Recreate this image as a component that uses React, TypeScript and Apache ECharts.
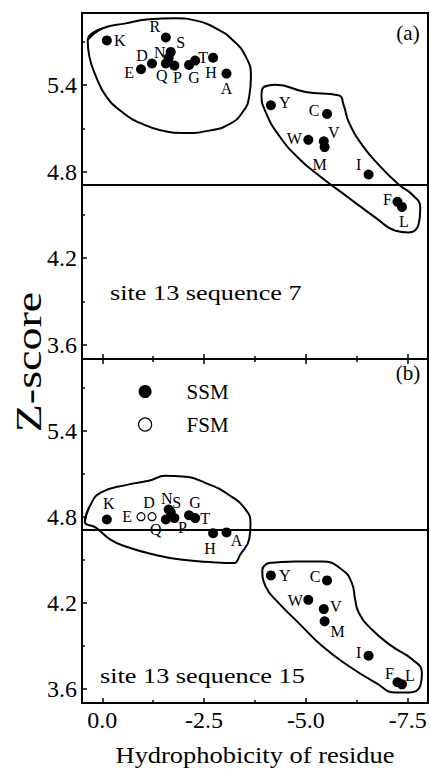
import React, { useEffect, useRef } from "react";
import * as echarts from "echarts";

// ---------------- data ----------------
const residues = ["K", "E", "D", "R", "N", "Q", "S", "P", "G", "T", "H", "A", "Y", "C", "W", "V", "M", "I", "F", "L"];
const hydrophobicity = [-0.11, -0.95, -1.22, -1.56, -1.63, -1.56, -1.68, -1.77, -2.13, -2.28, -2.72, -3.05, -4.14, -5.52, -5.06, -5.44, -5.46, -6.54, -7.25, -7.36];
// panel (a): site 13 sequence 7, all SSM
const zScoreSeq7 = [5.71, 5.51, 5.55, 5.73, 5.59, 5.55, 5.63, 5.535, 5.54, 5.57, 5.59, 5.48, 5.26, 5.2, 5.02, 5.01, 4.97, 4.78, 4.59, 4.555];
// panel (b): site 13 sequence 15 (R not shown)
const zScoreSeq15 = [4.78, 4.8, 4.8, null, 4.85, 4.78, 4.83, 4.79, 4.81, 4.79, 4.685, 4.69, 4.39, 4.355, 4.22, 4.155, 4.07, 3.83, 3.645, 3.63];
const fsmResiduesSeq15 = ["E", "D"];
const threshold = 4.71;

const yMajorTicks = [3.6, 4.2, 4.8, 5.4];
const yMinorTicks = [3.9, 4.5, 5.1, 5.7];
const xMajorTicks = [0, -2.5, -5, -7.5];
const xMinorTicks = [-1.25, -3.75, -6.25];

// hand-drawn cluster outlines [hydrophobicity, z-score]
const loopSeq7Polar = [
  [0.36, 5.713], [-0.01, 5.794], [-0.58, 5.828], [-1.15, 5.856], [-1.81, 5.863], [-2.3, 5.847], [-2.79, 5.794],
  [-3.2, 5.713], [-3.52, 5.599], [-3.65, 5.462], [-3.61, 5.324], [-3.44, 5.21], [-3.12, 5.129], [-2.63, 5.084],
  [-1.97, 5.067], [-1.48, 5.084], [-0.99, 5.129], [-0.5, 5.21], [-0.09, 5.324], [0.16, 5.462], [0.32, 5.599],
];
const loopSeq7Apolar = [
  [-3.96, 5.386], [-4.25, 5.402], [-4.99, 5.352], [-5.8, 5.329], [-5.93, 5.26], [-6.05, 5.146], [-6.38, 4.985],
  [-6.79, 4.847], [-7.28, 4.71], [-7.61, 4.641], [-7.81, 4.55], [-7.77, 4.435], [-7.52, 4.378], [-7.2, 4.39],
  [-6.71, 4.481], [-6.05, 4.619], [-5.4, 4.756], [-4.82, 4.893], [-4.33, 5.054], [-4.01, 5.214], [-3.91, 5.329],
];
const loopSeq15Polar = [
  [0.43, 4.765], [0.29, 4.883], [0.04, 4.967], [-0.6, 5.022], [-1.14, 5.05], [-1.55, 5.085], [-1.97, 5.081],
  [-2.53, 5.036], [-3.1, 4.953], [-3.52, 4.849], [-3.64, 4.751], [-3.61, 4.647], [-3.39, 4.536], [-3.22, 4.476],
  [-2.78, 4.481], [-1.92, 4.501], [-1.26, 4.536], [-0.57, 4.592], [-0.2, 4.64], [0.16, 4.724],
];
const loopSeq15Apolar = [
  [-3.93, 4.43], [-4.09, 4.476], [-4.74, 4.488], [-5.4, 4.488], [-5.89, 4.43], [-6.13, 4.337], [-6.21, 4.222],
  [-6.3, 4.129], [-6.62, 4.013], [-7.11, 3.897], [-7.61, 3.805], [-7.85, 3.712], [-7.81, 3.619], [-7.52, 3.573],
  [-7.2, 3.573], [-6.71, 3.642], [-6.05, 3.758], [-5.4, 3.897], [-4.82, 4.059], [-4.33, 4.198], [-4.01, 4.314],
];

// ---------------- label placement (pixels, style only) ----------------
const labelOffsetSeq7: Record<string, [number, number]> = {
  K: [13, 0], R: [-11, -11], S: [10, -9], N: [-9, -5], D: [-10, -8], E: [-12, 3], Q: [-4, 12], P: [3, 12],
  G: [5, 13], T: [8, -3], H: [-2, 15], A: [0, 15], Y: [14, -3], C: [-13, -3], W: [-14, -1], V: [10, -9],
  M: [-5, 17], I: [-10, -10], F: [-10, -2], L: [2, 15],
};
const labelOffsetSeq15: Record<string, [number, number]> = {
  K: [2, -16], E: [-14, 0], D: [-3, -14], N: [-2, -11], S: [6, -10], G: [6, -13], T: [10, 0], Q: [-10, 10],
  P: [8, 9], H: [-3, 15], A: [10, 8], Y: [14, 0], C: [-12, -4], W: [-13, 1], V: [12, -3], M: [13, 10],
  I: [-10, -3], F: [-8, -9], L: [8, -9],
};

const FONT = "Liberation Serif";

function App() {
  const ref = useRef<HTMLDivElement>(null);

  useEffect(() => {
    if (!ref.current) return;
    const chart = echarts.init(ref.current, null, { renderer: "svg" });

    const pointLabel = {
      show: true,
      position: "inside",
      formatter: "{b}",
      color: "#000",
      fontSize: 16,
      fontFamily: FONT,
      align: "center",
      verticalAlign: "middle",
    };

    const makePoints = (z: (number | null)[], offsets: Record<string, [number, number]>, keep: (r: string) => boolean) =>
      residues
        .map((r, i) => ({ r, i }))
        .filter(({ r, i }) => z[i] !== null && keep(r))
        .map(({ r, i }) => ({
          name: r,
          value: [hydrophobicity[i], z[i]],
          label: { offset: offsets[r] || [0, 0] },
        }));

    const xBase = {
      type: "value",
      min: -8,
      max: 0.5,
      inverse: true,
      splitLine: { show: false },
      axisLine: { show: true, onZero: false, lineStyle: { color: "#000", width: 2 } },
    };
    const yBase = {
      type: "value",
      min: 3.5,
      max: 5.9,
      splitLine: { show: false },
      axisLine: { show: true, onZero: false, lineStyle: { color: "#000", width: 2 } },
    };
    const labelStyle = { color: "#000", fontSize: 24, fontFamily: FONT };

    const xAx = (grid: number, position: string, values: number[], len: number, labels: boolean) => ({
      ...xBase,
      gridIndex: grid,
      position,
      axisTick: { show: true, inside: true, length: len, customValues: values, lineStyle: { color: "#000", width: 1.5 } },
      axisLabel: labels
        ? { show: true, customValues: xMajorTicks, formatter: (v: number) => v.toFixed(1), margin: 5, ...labelStyle }
        : { show: false },
    });
    const yAx = (grid: number, values: number[], len: number, labels: boolean) => ({
      ...yBase,
      gridIndex: grid,
      position: "left",
      axisTick: { show: true, inside: true, length: len, customValues: values, lineStyle: { color: "#000", width: 1.5 } },
      axisLabel: labels
        ? { show: true, customValues: yMajorTicks, formatter: (v: number) => v.toFixed(1), margin: 5, ...labelStyle }
        : { show: false },
    });

    const loop = (pts: number[][], xi: number, yi: number) => ({
      type: "line",
      xAxisIndex: xi,
      yAxisIndex: yi,
      data: [...pts, pts[0], pts[1]],
      smooth: 0.5,
      symbol: "none",
      showSymbol: false,
      silent: true,
      lineStyle: { color: "#000", width: 2 },
      z: 1,
    });

    const thresholdLine = {
      symbol: ["none", "none"],
      silent: true,
      label: { show: false },
      emphasis: { disabled: true },
      lineStyle: { color: "#000", width: 2, type: "solid" },
      data: [{ yAxis: threshold }],
    };

    const option = {
      animation: false,
      backgroundColor: "#fff",
      grid: [
        { left: 82, top: 13, width: 346, height: 346, show: true, borderColor: "#000", borderWidth: 2, backgroundColor: "transparent" },
        { left: 82, top: 359, width: 346, height: 344, show: true, borderColor: "#000", borderWidth: 2, backgroundColor: "transparent" },
      ],
      xAxis: [
        xAx(0, "bottom", xMajorTicks, 5, false),
        xAx(0, "bottom", xMinorTicks, 3, false),
        xAx(1, "top", xMajorTicks, 5, false),
        xAx(1, "top", xMinorTicks, 3, false),
        xAx(1, "bottom", xMajorTicks, 5, true),
        xAx(1, "bottom", xMinorTicks, 3, false),
      ],
      yAxis: [
        yAx(0, yMajorTicks, 5, true),
        yAx(0, yMinorTicks, 3, false),
        yAx(1, yMajorTicks, 5, true),
        yAx(1, yMinorTicks, 3, false),
      ],
      legend: {
        left: 133,
        top: 376,
        orient: "vertical",
        itemWidth: 13,
        itemHeight: 13,
        itemGap: 12,
        selectedMode: false,
        textStyle: { fontSize: 21, fontFamily: FONT, color: "#000", padding: [0, 0, 0, 30] },
        data: [
          { name: "SSM", icon: "circle", itemStyle: { color: "#000", borderWidth: 0, opacity: 1 } },
          { name: "FSM", icon: "circle", itemStyle: { color: "#fff", borderColor: "#000", borderWidth: 1.2, opacity: 1 } },
        ],
      },
      series: [
        loop(loopSeq7Polar, 0, 0),
        loop(loopSeq7Apolar, 0, 0),
        loop(loopSeq15Polar, 4, 2),
        loop(loopSeq15Apolar, 4, 2),
        {
          name: "SSM",
          type: "scatter",
          xAxisIndex: 0,
          yAxisIndex: 0,
          symbol: "circle",
          symbolSize: 10,
          itemStyle: { color: "#000", opacity: 1 },
          label: pointLabel,
          silent: true,
          z: 3,
          data: makePoints(zScoreSeq7, labelOffsetSeq7, () => true),
          markLine: thresholdLine,
        },
        {
          name: "SSM",
          type: "scatter",
          xAxisIndex: 4,
          yAxisIndex: 2,
          symbol: "circle",
          symbolSize: 10,
          itemStyle: { color: "#000", opacity: 1 },
          label: pointLabel,
          silent: true,
          z: 3,
          data: makePoints(zScoreSeq15, labelOffsetSeq15, (r) => !fsmResiduesSeq15.includes(r)),
          markLine: thresholdLine,
        },
        {
          name: "FSM",
          type: "scatter",
          xAxisIndex: 4,
          yAxisIndex: 2,
          symbol: "circle",
          symbolSize: 8,
          itemStyle: { color: "#fff", borderColor: "#000", borderWidth: 1.2, opacity: 1 },
          label: pointLabel,
          silent: true,
          z: 3,
          data: makePoints(zScoreSeq15, labelOffsetSeq15, (r) => fsmResiduesSeq15.includes(r)),
        },
      ],
      graphic: [
        { type: "text", x: 408, y: 33, style: { text: "(a)", fontSize: 21, fontFamily: FONT, fill: "#000", align: "center", verticalAlign: "middle" } },
        { type: "text", x: 408, y: 373, style: { text: "(b)", fontSize: 21, fontFamily: FONT, fill: "#000", align: "center", verticalAlign: "middle" } },
        { type: "text", x: 110, y: 293, scaleX: 1.25, style: { text: "site 13 sequence 7", fontSize: 21, fontFamily: FONT, fill: "#000", align: "left", verticalAlign: "middle" } },
        { type: "text", x: 100, y: 676, scaleX: 1.25, style: { text: "site 13 sequence 15", fontSize: 21, fontFamily: FONT, fill: "#000", align: "left", verticalAlign: "middle" } },
        { type: "text", x: 29, y: 362, rotation: Math.PI / 2, scaleX: 1.28, style: { text: "Z-score", fontSize: 36, fontFamily: FONT, fill: "#000", align: "center", verticalAlign: "middle" } },
        { type: "text", x: 255, y: 755, scaleX: 1.15, style: { text: "Hydrophobicity of residue", fontSize: 23, fontFamily: FONT, fill: "#000", align: "center", verticalAlign: "middle" } },
      ],
    };

    chart.setOption(option as any);
    return () => chart.dispose();
  }, []);

  return <div ref={ref} style={{ width: 430, height: 778, position: "absolute", left: 0, top: 0 }} />;
}

export default App;
